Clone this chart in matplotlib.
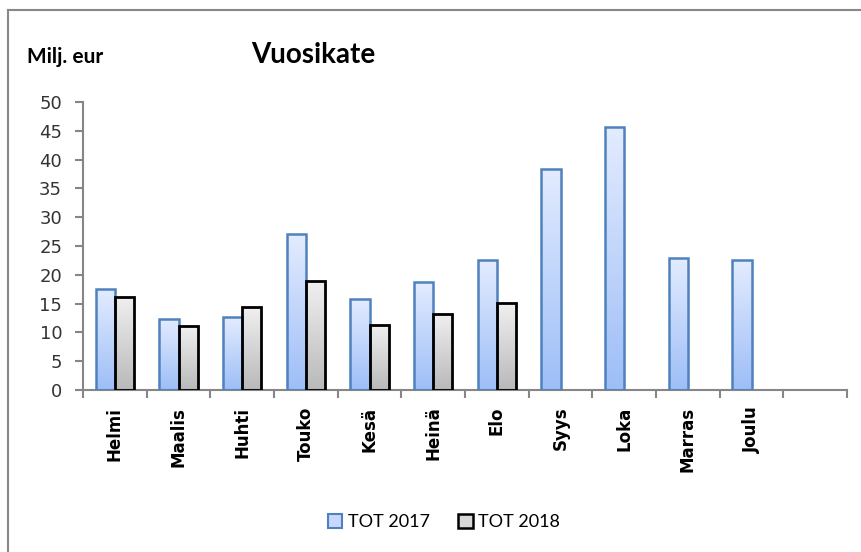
import numpy as np
import matplotlib
matplotlib.use("Agg")
import matplotlib.pyplot as plt
from matplotlib.colors import LinearSegmentedColormap
from matplotlib.lines import Line2D
from matplotlib.patches import Patch

# --- data ---
months = ["Helmi", "Maalis", "Huhti", "Touko", "Kesä", "Heinä", "Elo",
          "Syys", "Loka", "Marras", "Joulu", ""]
tot_2017 = [17.5, 12.4, 12.6, 27.0, 15.8, 18.8, 22.5, 38.4, 45.6, 22.9, 22.5, None]
tot_2018 = [16.2, 11.1, 14.4, 18.9, 11.3, 13.2, 15.1, None, None, None, None, None]

blue_cm = LinearSegmentedColormap.from_list("b", ["#e3ecff", "#9dbef7"])
gray_cm = LinearSegmentedColormap.from_list("g", ["#f0f0f0", "#b9b9b9"])

fig = plt.figure(figsize=(8.62, 5.52), dpi=100)
ax = fig.add_axes([0.0963, 0.2935, 0.8863, 0.5217])

x = np.arange(len(months)) + 0.5
w = 0.3


def grad_bars(xpos, vals, cmap, edge, lw):
    grad = np.linspace(0, 1, 256).reshape(-1, 1)
    for xi, v in zip(xpos, vals):
        if v is None:
            continue
        b = ax.bar(xi, v, width=w, color="none", edgecolor=edge,
                   linewidth=lw, zorder=3)[0]
        im = ax.imshow(grad, cmap=cmap, aspect="auto", origin="upper",
                       extent=[xi - w / 2, xi + w / 2, 0, v], zorder=2)
        im.set_clip_path(b)


grad_bars(x - w / 2, tot_2017, blue_cm, "#4f81bd", 1.8)
grad_bars(x + w / 2, tot_2018, gray_cm, "black", 2.0)

ax.set_xlim(0, 12)
ax.set_ylim(0, 50)
ax.set_yticks(range(0, 51, 5))
ax.set_xticks(x)
ax.set_xticklabels(months, rotation=90, fontsize=12, fontweight="bold",
                   family="DejaVu Sans")
ax.set_xticks(np.arange(0, 13), minor=True)
ax.tick_params(axis="x", which="major", length=0, pad=12)
ax.tick_params(axis="x", which="minor", length=6, width=1.5, color="#868686",
               direction="out")
ax.tick_params(axis="y", length=6, width=1.5, color="#868686", pad=9,
               labelsize=13, labelcolor="#333333")

for s in ["top", "right"]:
    ax.spines[s].set_visible(False)
for s in ["left", "bottom"]:
    ax.spines[s].set_color("#868686")
    ax.spines[s].set_linewidth(1.5)

fig.text(0.0313, 0.896, "Milj. eur", fontsize=15, fontweight="bold",
         family="Lato", ha="left", va="center")
fig.text(0.364, 0.9, "Vuosikate", fontsize=20, fontweight="bold",
         family="Lato", ha="center", va="center")

handles = [Patch(facecolor="#c6d8fb", edgecolor="#4f81bd", linewidth=1.5),
           Patch(facecolor="#d8d8d8", edgecolor="black", linewidth=1.8)]
leg = fig.legend(handles, ["TOT 2017", "TOT 2018"], loc="center",
                 bbox_to_anchor=(0.515, 0.054), ncol=2, frameon=False,
                 prop={"family": "Lato", "size": 13}, handlelength=0.8,
                 handleheight=0.8, handletextpad=0.3, columnspacing=1.6)

# outer frame (top and left visible)
fig.add_artist(Line2D([0.0093, 1.0], [0.982, 0.982], color="#888888",
                      linewidth=1.5, transform=fig.transFigure))
fig.add_artist(Line2D([0.0093, 0.0093], [0.0, 0.982], color="#888888",
                      linewidth=1.5, transform=fig.transFigure))

fig.savefig("out.png", dpi=100)
